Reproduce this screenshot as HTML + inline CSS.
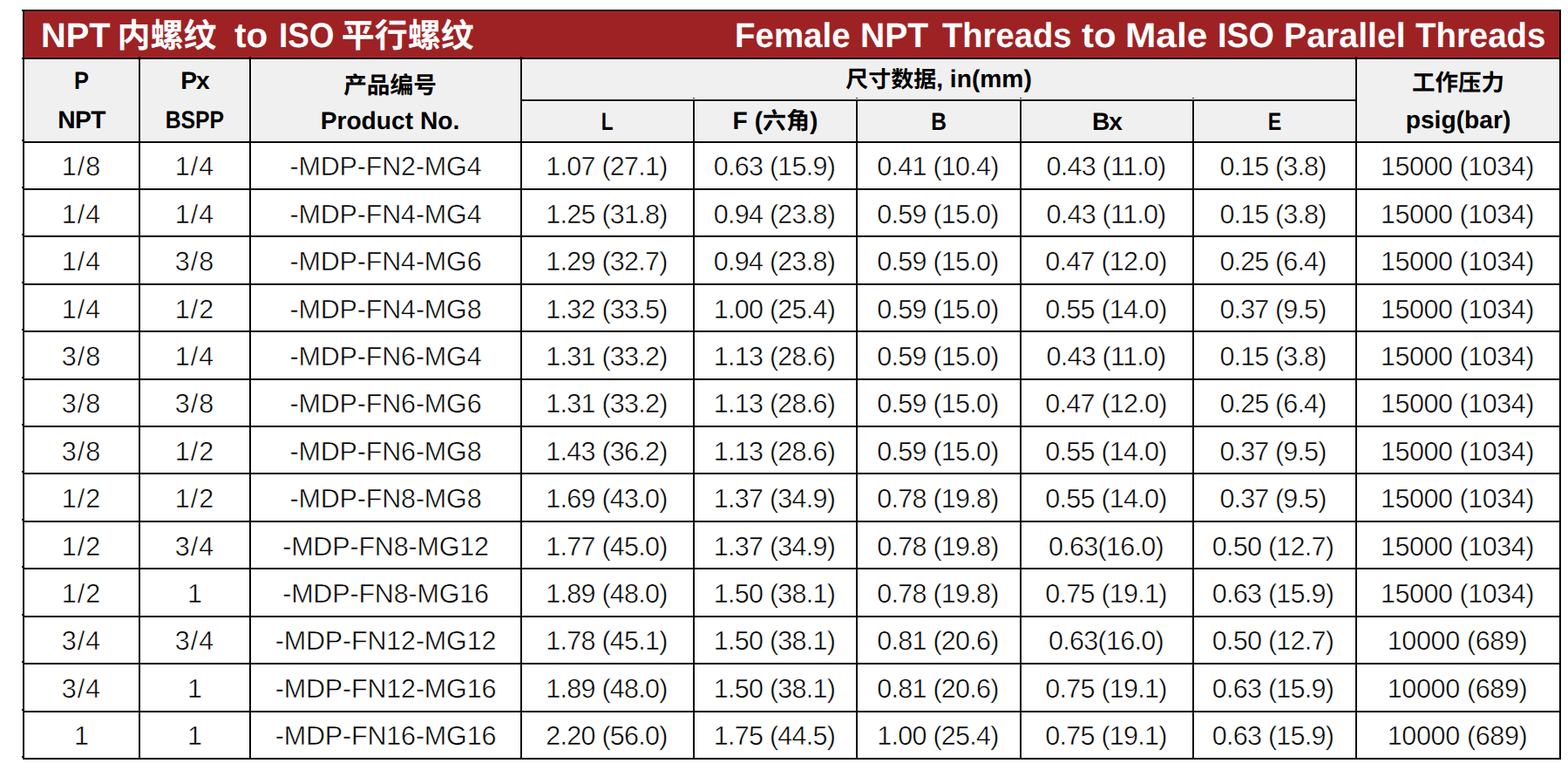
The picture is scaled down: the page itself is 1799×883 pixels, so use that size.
<!DOCTYPE html>
<html lang="zh-CN">
<head>
<meta charset="utf-8">
<title>Female NPT Threads to Male ISO Parallel Threads</title>
<style>
html,body{margin:0;padding:0;background:#fff;}
body{width:1799px;height:883px;overflow:hidden;position:relative;font-family:"Liberation Sans",sans-serif;color:#000;text-rendering:geometricPrecision;}
table{position:absolute;left:26px;top:11px;width:1765px;table-layout:fixed;border-collapse:separate;border-spacing:0;border-left:2px solid #000;border-top:2px solid #000;}
th,td{box-sizing:border-box;border-right:2px solid #000;border-bottom:2px solid #000;padding:0;margin:0;text-align:center;vertical-align:middle;white-space:nowrap;overflow:hidden;font-weight:normal;}
span.cjk{display:inline-block;position:relative;font-family:"Liberation Sans","Noto Sans CJK SC",sans-serif;letter-spacing:0;white-space:nowrap;}
/* title band */
tr.title th{height:55px;background:#9e2224;box-shadow:inset 0 0 0 1px #ae292b;color:#fff;font-weight:bold;font-size:39.6px;line-height:53px;}
.tw{position:relative;height:53px;}
.tl{position:absolute;left:20px;top:2px;white-space:nowrap;}
.tr{position:absolute;left:816px;top:2px;white-space:nowrap;}
.tw .w{display:inline-block;transform-origin:0 50%;}
span.zt{font-size:38px;top:0px;}
/* header */
thead tr.h1 th, thead tr.h2 th{background:#f0f0f0;box-shadow:inset 0 0 0 1px #fcfcfc;font-weight:bold;font-size:28.2px;}
tr.h1{height:47px;} tr.h2{height:47px;}
th.one{height:47px;line-height:45px;}
th.two{height:94px;}
th.two span.l1, th.two span.l2{display:block;height:46px;line-height:46px;position:relative;}
span.zh{font-size:26.5px;}
.s-npt{letter-spacing:-0.6px;top:-1px;}
.s-px{letter-spacing:-1px;}
.s-bx{letter-spacing:-1px;}
.sx{display:inline-block;transform-origin:50% 50%;}
.s-p .sx{transform:scaleX(.9);}
.s-bspp{top:-1px;} .s-bspp .sx{transform:scaleX(.878);}
.s-l .sx{transform:scaleX(.8);} .s-b .sx{transform:scaleX(.87);} .s-e .sx{transform:scaleX(.82);}
.s-pc{left:5px;top:5px;} .s-pc span.cjk{font-size:26.7px;}
.s-prod{left:5px;}
.s-dim span.cjk{font-size:26px;}
.s-wc{top:1.5px;}
.s-f span.cjk{font-size:27px;top:0px;}
.s-psig{top:-1px;}
/* data */
td{font-size:30.5px;background:#fff;-webkit-text-stroke:0.5px #fff;}
tr.r54 td{height:54px;line-height:52px;}
tr.r55 td{height:55px;line-height:53px;}
td span{position:relative;top:1px;}
tr.dn td span{top:2px;}
.v11,.v10,.vn,.p12,.p11{left:-1px;}
td:nth-child(8) span{left:-2px;}
.fr{letter-spacing:1px;}
.k12,.k13,.k14{letter-spacing:-0.17px;}
.v11{letter-spacing:-0.75px;}
.v10{letter-spacing:-0.86px;}
.vn{letter-spacing:-0.7px;}
.p12{letter-spacing:-0.45px;}
.p11{letter-spacing:-0.36px;}
svg.ticks{position:absolute;left:0;top:0;pointer-events:none;}
.a1{margin-left:-0.90px;transform:scaleX(1.0040);}
.a2{margin-left:-2.70px;}
.a3{margin-left:9.00px;transform:scaleX(1.0210);}
.a4{margin-left:3.50px;transform:scaleX(0.9314);}
.a5{margin-left:-7.90px;}
.b1{margin-left:-1.00px;transform:scaleX(0.9717);}
.b2{margin-left:-3.00px;transform:scaleX(0.9868);}
.b3{margin-left:3.00px;transform:scaleX(0.9638);}
.b4{margin-left:-5.00px;transform:scaleX(1.0579);}
.b5{margin-left:2.00px;transform:scaleX(1.0714);}
.b6{margin-left:7.00px;transform:scaleX(0.9526);}
.b7{margin-left:-3.00px;transform:scaleX(0.9926);}
.b8{margin-left:-1.00px;transform:scaleX(0.9704);}
</style>
</head>
<body>
<table>
<colgroup><col style="width:133px"><col style="width:127px"><col style="width:311px"><col style="width:198px"><col style="width:187px"><col style="width:188px"><col style="width:198px"><col style="width:187px"><col style="width:234px"></colgroup>
<thead>
<tr class="title"><th colspan="9"><div class="tw"><span class="tl"><span class="w a1">NPT</span> <span class="cjk zt a2">内螺纹</span> <span class="w a3">to</span> <span class="w a4">ISO</span> <span class="cjk zt a5">平行螺纹</span></span><span class="tr"><span class="w b1">Female</span> <span class="w b2">NPT</span> <span class="w b3">Threads</span> <span class="w b4">to</span> <span class="w b5">Male</span> <span class="w b6">ISO</span> <span class="w b7">Parallel</span> <span class="w b8">Threads</span></span></div></th></tr>
<tr class="h1"><th rowspan="2" class="two"><span class="l1 s-p"><span class="sx">P</span></span><span class="l2 s-npt">NPT</span></th><th rowspan="2" class="two"><span class="l1 s-px">Px</span><span class="l2 s-bspp"><span class="sx">BSPP</span></span></th><th rowspan="2" class="two"><span class="l1 s-pc"><span class="cjk zh">产品编号</span></span><span class="l2 s-prod">Product No.</span></th><th colspan="5" class="one"><span class="s-dim"><span class="cjk zh">尺寸数据</span><span class="s-in">, in(mm)</span></span></th><th rowspan="2" class="two"><span class="l1 s-wc"><span class="cjk zh">工作压力</span></span><span class="l2 s-psig">psig(bar)</span></th></tr>
<tr class="h2"><th class="one"><span class="s-l"><span class="sx">L</span></span></th><th class="one"><span class="s-f">F (<span class="cjk zh">六角</span>)</span></th><th class="one"><span class="s-b"><span class="sx">B</span></span></th><th class="one"><span class="s-bx">Bx</span></th><th class="one"><span class="s-e"><span class="sx">E</span></span></th></tr>
</thead><tbody>
<tr class="r54"><td><span class="fr">1/8</span></td><td><span class="fr">1/4</span></td><td><span class="k12">-MDP-FN2-MG4</span></td><td><span class="v11">1.07 (27.1)</span></td><td><span class="v11">0.63 (15.9)</span></td><td><span class="v11">0.41 (10.4)</span></td><td><span class="v11">0.43 (11.0)</span></td><td><span class="v10">0.15 (3.8)</span></td><td><span class="p12">15000 (1034)</span></td></tr>
<tr class="r54 dn"><td><span class="fr">1/4</span></td><td><span class="fr">1/4</span></td><td><span class="k12">-MDP-FN4-MG4</span></td><td><span class="v11">1.25 (31.8)</span></td><td><span class="v11">0.94 (23.8)</span></td><td><span class="v11">0.59 (15.0)</span></td><td><span class="v11">0.43 (11.0)</span></td><td><span class="v10">0.15 (3.8)</span></td><td><span class="p12">15000 (1034)</span></td></tr>
<tr class="r55 dn"><td><span class="fr">1/4</span></td><td><span class="fr">3/8</span></td><td><span class="k12">-MDP-FN4-MG6</span></td><td><span class="v11">1.29 (32.7)</span></td><td><span class="v11">0.94 (23.8)</span></td><td><span class="v11">0.59 (15.0)</span></td><td><span class="v11">0.47 (12.0)</span></td><td><span class="v10">0.25 (6.4)</span></td><td><span class="p12">15000 (1034)</span></td></tr>
<tr class="r54 dn"><td><span class="fr">1/4</span></td><td><span class="fr">1/2</span></td><td><span class="k12">-MDP-FN4-MG8</span></td><td><span class="v11">1.32 (33.5)</span></td><td><span class="v11">1.00 (25.4)</span></td><td><span class="v11">0.59 (15.0)</span></td><td><span class="v11">0.55 (14.0)</span></td><td><span class="v10">0.37 (9.5)</span></td><td><span class="p12">15000 (1034)</span></td></tr>
<tr class="r55 dn"><td><span class="fr">3/8</span></td><td><span class="fr">1/4</span></td><td><span class="k12">-MDP-FN6-MG4</span></td><td><span class="v11">1.31 (33.2)</span></td><td><span class="v11">1.13 (28.6)</span></td><td><span class="v11">0.59 (15.0)</span></td><td><span class="v11">0.43 (11.0)</span></td><td><span class="v10">0.15 (3.8)</span></td><td><span class="p12">15000 (1034)</span></td></tr>
<tr class="r54"><td><span class="fr">3/8</span></td><td><span class="fr">3/8</span></td><td><span class="k12">-MDP-FN6-MG6</span></td><td><span class="v11">1.31 (33.2)</span></td><td><span class="v11">1.13 (28.6)</span></td><td><span class="v11">0.59 (15.0)</span></td><td><span class="v11">0.47 (12.0)</span></td><td><span class="v10">0.25 (6.4)</span></td><td><span class="p12">15000 (1034)</span></td></tr>
<tr class="r54 dn"><td><span class="fr">3/8</span></td><td><span class="fr">1/2</span></td><td><span class="k12">-MDP-FN6-MG8</span></td><td><span class="v11">1.43 (36.2)</span></td><td><span class="v11">1.13 (28.6)</span></td><td><span class="v11">0.59 (15.0)</span></td><td><span class="v11">0.55 (14.0)</span></td><td><span class="v10">0.37 (9.5)</span></td><td><span class="p12">15000 (1034)</span></td></tr>
<tr class="r55 dn"><td><span class="fr">1/2</span></td><td><span class="fr">1/2</span></td><td><span class="k12">-MDP-FN8-MG8</span></td><td><span class="v11">1.69 (43.0)</span></td><td><span class="v11">1.37 (34.9)</span></td><td><span class="v11">0.78 (19.8)</span></td><td><span class="v11">0.55 (14.0)</span></td><td><span class="v10">0.37 (9.5)</span></td><td><span class="p12">15000 (1034)</span></td></tr>
<tr class="r54 dn"><td><span class="fr">1/2</span></td><td><span class="fr">3/4</span></td><td><span class="k13">-MDP-FN8-MG12</span></td><td><span class="v11">1.77 (45.0)</span></td><td><span class="v11">1.37 (34.9)</span></td><td><span class="v11">0.78 (19.8)</span></td><td><span class="vn">0.63(16.0)</span></td><td><span class="v11">0.50 (12.7)</span></td><td><span class="p12">15000 (1034)</span></td></tr>
<tr class="r55 dn"><td><span class="fr">1/2</span></td><td><span class="d1">1</span></td><td><span class="k13">-MDP-FN8-MG16</span></td><td><span class="v11">1.89 (48.0)</span></td><td><span class="v11">1.50 (38.1)</span></td><td><span class="v11">0.78 (19.8)</span></td><td><span class="v11">0.75 (19.1)</span></td><td><span class="v11">0.63 (15.9)</span></td><td><span class="p12">15000 (1034)</span></td></tr>
<tr class="r54"><td><span class="fr">3/4</span></td><td><span class="fr">3/4</span></td><td><span class="k14">-MDP-FN12-MG12</span></td><td><span class="v11">1.78 (45.1)</span></td><td><span class="v11">1.50 (38.1)</span></td><td><span class="v11">0.81 (20.6)</span></td><td><span class="vn">0.63(16.0)</span></td><td><span class="v11">0.50 (12.7)</span></td><td><span class="p11">10000 (689)</span></td></tr>
<tr class="r55 dn"><td><span class="fr">3/4</span></td><td><span class="d1">1</span></td><td><span class="k14">-MDP-FN12-MG16</span></td><td><span class="v11">1.89 (48.0)</span></td><td><span class="v11">1.50 (38.1)</span></td><td><span class="v11">0.81 (20.6)</span></td><td><span class="v11">0.75 (19.1)</span></td><td><span class="v11">0.63 (15.9)</span></td><td><span class="p11">10000 (689)</span></td></tr>
<tr class="r54"><td><span class="d1">1</span></td><td><span class="d1">1</span></td><td><span class="k14">-MDP-FN16-MG16</span></td><td><span class="v11">2.20 (56.0)</span></td><td><span class="v11">1.75 (44.5)</span></td><td><span class="v11">1.00 (25.4)</span></td><td><span class="v11">0.75 (19.1)</span></td><td><span class="v11">0.63 (15.9)</span></td><td><span class="p11">10000 (689)</span></td></tr>
</tbody></table>
<svg class="ticks" width="1799" height="883" viewBox="0 0 1799 883" shape-rendering="crispEdges" aria-hidden="true"><path d="M25 11h1v2h-1zM25 66h1v2h-1zM25 160h1v2h-1zM25 214h1v2h-1zM25 268h1v2h-1zM25 323h1v2h-1zM25 377h1v2h-1zM25 432h1v2h-1zM25 486h1v2h-1zM25 540h1v2h-1zM25 595h1v2h-1zM25 649h1v2h-1zM25 704h1v2h-1zM25 758h1v2h-1zM25 813h1v2h-1zM25 867h1v2h-1zM159 65h2v1h-2zM286 65h2v1h-2zM597 65h2v1h-2zM1555 65h2v1h-2zM795 112h2v1h-2zM982 112h2v1h-2zM1170 112h2v1h-2zM1368 112h2v1h-2z" fill="#000" fill-opacity=".85"/></svg>
</body>
</html>
